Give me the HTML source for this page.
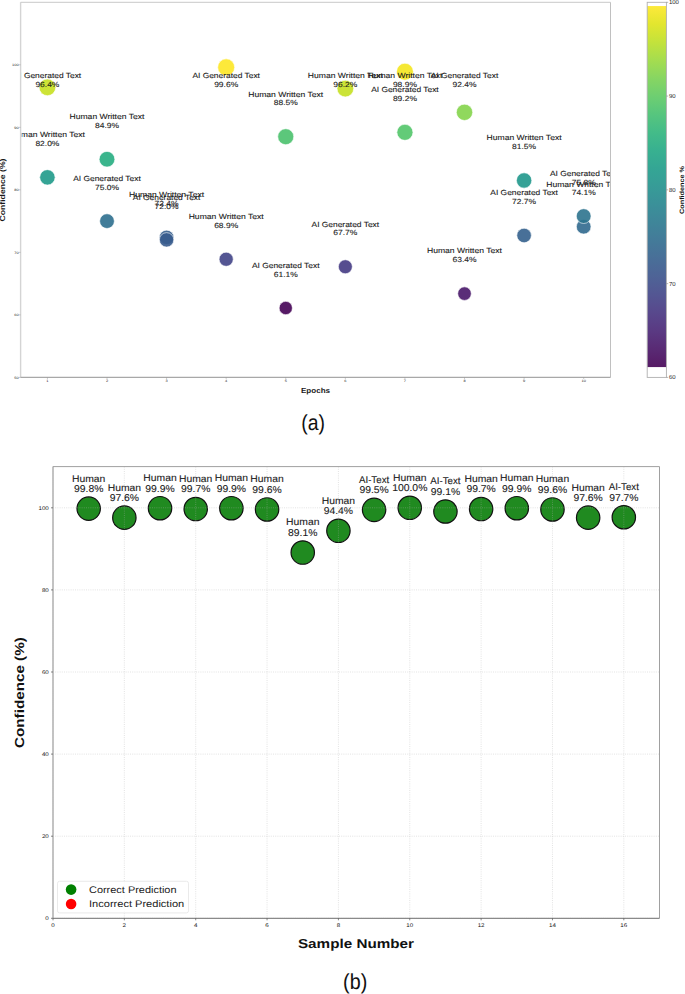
<!DOCTYPE html>
<html><head><meta charset="utf-8"><style>
html,body{margin:0;padding:0;background:#fff;}
body{width:685px;height:994px;overflow:hidden;}
svg{display:block;font-family:"Liberation Sans", sans-serif;text-rendering:geometricPrecision;}
</style></head><body>
<svg width="685" height="994" viewBox="0 0 685 994">
<rect width="685" height="994" fill="#fff"/>
<clipPath id="tclip"><rect x="21.6" y="2.3" width="588.9" height="375.09999999999997"/></clipPath>
<rect x="20.6" y="2.3" width="589.9" height="375.09999999999997" fill="#fff" stroke="none"/>
<g clip-path="url(#tclip)">
<circle cx="47.41" cy="177.35" r="7.70" fill="#1f9a8a" fill-opacity="0.9" stroke="#fff" stroke-width="0.6"/>
<circle cx="107.00" cy="159.22" r="7.83" fill="#26ad81" fill-opacity="0.9" stroke="#fff" stroke-width="0.6"/>
<circle cx="166.59" cy="237.36" r="7.23" fill="#355e8d" fill-opacity="0.9" stroke="#fff" stroke-width="0.6"/>
<circle cx="226.17" cy="259.24" r="7.06" fill="#414487" fill-opacity="0.9" stroke="#fff" stroke-width="0.6"/>
<circle cx="285.76" cy="136.71" r="8.00" fill="#4ac16d" fill-opacity="0.9" stroke="#fff" stroke-width="0.6"/>
<circle cx="345.34" cy="88.57" r="8.34" fill="#c5e021" fill-opacity="0.9" stroke="#fff" stroke-width="0.6"/>
<circle cx="404.93" cy="71.69" r="8.45" fill="#f4e61e" fill-opacity="0.9" stroke="#fff" stroke-width="0.6"/>
<circle cx="464.51" cy="293.63" r="6.77" fill="#481769" fill-opacity="0.9" stroke="#fff" stroke-width="0.6"/>
<circle cx="524.10" cy="180.47" r="7.67" fill="#1f978b" fill-opacity="0.9" stroke="#fff" stroke-width="0.6"/>
<circle cx="583.69" cy="226.73" r="7.32" fill="#30698e" fill-opacity="0.9" stroke="#fff" stroke-width="0.6"/>
<circle cx="47.41" cy="87.32" r="8.35" fill="#c8e020" fill-opacity="0.9" stroke="#fff" stroke-width="0.6"/>
<circle cx="107.00" cy="221.11" r="7.36" fill="#2e6f8e" fill-opacity="0.9" stroke="#fff" stroke-width="0.6"/>
<circle cx="166.59" cy="239.86" r="7.21" fill="#375b8d" fill-opacity="0.9" stroke="#fff" stroke-width="0.6"/>
<circle cx="226.17" cy="67.32" r="8.48" fill="#fde725" fill-opacity="0.9" stroke="#fff" stroke-width="0.6"/>
<circle cx="285.76" cy="308.01" r="6.64" fill="#440154" fill-opacity="0.9" stroke="#fff" stroke-width="0.6"/>
<circle cx="345.34" cy="266.75" r="6.99" fill="#443a83" fill-opacity="0.9" stroke="#fff" stroke-width="0.6"/>
<circle cx="404.93" cy="132.33" r="8.03" fill="#52c569" fill-opacity="0.9" stroke="#fff" stroke-width="0.6"/>
<circle cx="464.51" cy="112.33" r="8.17" fill="#84d44b" fill-opacity="0.9" stroke="#fff" stroke-width="0.6"/>
<circle cx="524.10" cy="235.49" r="7.25" fill="#34608d" fill-opacity="0.9" stroke="#fff" stroke-width="0.6"/>
<circle cx="583.69" cy="216.11" r="7.40" fill="#2c738e" fill-opacity="0.9" stroke="#fff" stroke-width="0.6"/>
<text x="47.41" y="78.05" font-size="7.40" text-anchor="middle" fill="#1a1a1a" stroke="#1a1a1a" stroke-width="0.1" textLength="67.53" lengthAdjust="spacingAndGlyphs">AI Generated Text</text>
<text x="47.41" y="86.85" font-size="7.40" text-anchor="middle" fill="#1a1a1a" stroke="#1a1a1a" stroke-width="0.1" textLength="23.99" lengthAdjust="spacingAndGlyphs">96.4%</text>
<text x="47.41" y="137.20" font-size="7.40" text-anchor="middle" fill="#1a1a1a" stroke="#1a1a1a" stroke-width="0.1" textLength="74.99" lengthAdjust="spacingAndGlyphs">Human Written Text</text>
<text x="47.41" y="146.00" font-size="7.40" text-anchor="middle" fill="#1a1a1a" stroke="#1a1a1a" stroke-width="0.1" textLength="23.99" lengthAdjust="spacingAndGlyphs">82.0%</text>
<text x="107.00" y="119.07" font-size="7.40" text-anchor="middle" fill="#1a1a1a" stroke="#1a1a1a" stroke-width="0.1" textLength="74.99" lengthAdjust="spacingAndGlyphs">Human Written Text</text>
<text x="107.00" y="127.87" font-size="7.40" text-anchor="middle" fill="#1a1a1a" stroke="#1a1a1a" stroke-width="0.1" textLength="23.99" lengthAdjust="spacingAndGlyphs">84.9%</text>
<text x="107.00" y="180.96" font-size="7.40" text-anchor="middle" fill="#1a1a1a" stroke="#1a1a1a" stroke-width="0.1" textLength="67.53" lengthAdjust="spacingAndGlyphs">AI Generated Text</text>
<text x="107.00" y="189.76" font-size="7.40" text-anchor="middle" fill="#1a1a1a" stroke="#1a1a1a" stroke-width="0.1" textLength="23.99" lengthAdjust="spacingAndGlyphs">75.0%</text>
<text x="166.59" y="197.21" font-size="7.40" text-anchor="middle" fill="#1a1a1a" stroke="#1a1a1a" stroke-width="0.1" textLength="74.99" lengthAdjust="spacingAndGlyphs">Human Written Text</text>
<text x="166.59" y="206.01" font-size="7.40" text-anchor="middle" fill="#1a1a1a" stroke="#1a1a1a" stroke-width="0.1" textLength="23.99" lengthAdjust="spacingAndGlyphs">72.4%</text>
<text x="166.59" y="199.71" font-size="7.40" text-anchor="middle" fill="#1a1a1a" stroke="#1a1a1a" stroke-width="0.1" textLength="67.53" lengthAdjust="spacingAndGlyphs">AI Generated Text</text>
<text x="166.59" y="208.51" font-size="7.40" text-anchor="middle" fill="#1a1a1a" stroke="#1a1a1a" stroke-width="0.1" textLength="23.99" lengthAdjust="spacingAndGlyphs">72.0%</text>
<text x="226.17" y="78.05" font-size="7.40" text-anchor="middle" fill="#1a1a1a" stroke="#1a1a1a" stroke-width="0.1" textLength="67.53" lengthAdjust="spacingAndGlyphs">AI Generated Text</text>
<text x="226.17" y="86.85" font-size="7.40" text-anchor="middle" fill="#1a1a1a" stroke="#1a1a1a" stroke-width="0.1" textLength="23.99" lengthAdjust="spacingAndGlyphs">99.6%</text>
<text x="226.17" y="219.09" font-size="7.40" text-anchor="middle" fill="#1a1a1a" stroke="#1a1a1a" stroke-width="0.1" textLength="74.99" lengthAdjust="spacingAndGlyphs">Human Written Text</text>
<text x="226.17" y="227.89" font-size="7.40" text-anchor="middle" fill="#1a1a1a" stroke="#1a1a1a" stroke-width="0.1" textLength="23.99" lengthAdjust="spacingAndGlyphs">68.9%</text>
<text x="285.76" y="96.56" font-size="7.40" text-anchor="middle" fill="#1a1a1a" stroke="#1a1a1a" stroke-width="0.1" textLength="74.99" lengthAdjust="spacingAndGlyphs">Human Written Text</text>
<text x="285.76" y="105.36" font-size="7.40" text-anchor="middle" fill="#1a1a1a" stroke="#1a1a1a" stroke-width="0.1" textLength="23.99" lengthAdjust="spacingAndGlyphs">88.5%</text>
<text x="285.76" y="267.86" font-size="7.40" text-anchor="middle" fill="#1a1a1a" stroke="#1a1a1a" stroke-width="0.1" textLength="67.53" lengthAdjust="spacingAndGlyphs">AI Generated Text</text>
<text x="285.76" y="276.66" font-size="7.40" text-anchor="middle" fill="#1a1a1a" stroke="#1a1a1a" stroke-width="0.1" textLength="23.99" lengthAdjust="spacingAndGlyphs">61.1%</text>
<text x="345.34" y="78.05" font-size="7.40" text-anchor="middle" fill="#1a1a1a" stroke="#1a1a1a" stroke-width="0.1" textLength="74.99" lengthAdjust="spacingAndGlyphs">Human Written Text</text>
<text x="345.34" y="86.85" font-size="7.40" text-anchor="middle" fill="#1a1a1a" stroke="#1a1a1a" stroke-width="0.1" textLength="23.99" lengthAdjust="spacingAndGlyphs">96.2%</text>
<text x="345.34" y="226.59" font-size="7.40" text-anchor="middle" fill="#1a1a1a" stroke="#1a1a1a" stroke-width="0.1" textLength="67.53" lengthAdjust="spacingAndGlyphs">AI Generated Text</text>
<text x="345.34" y="235.39" font-size="7.40" text-anchor="middle" fill="#1a1a1a" stroke="#1a1a1a" stroke-width="0.1" textLength="23.99" lengthAdjust="spacingAndGlyphs">67.7%</text>
<text x="404.93" y="78.05" font-size="7.40" text-anchor="middle" fill="#1a1a1a" stroke="#1a1a1a" stroke-width="0.1" textLength="74.99" lengthAdjust="spacingAndGlyphs">Human Written Text</text>
<text x="404.93" y="86.85" font-size="7.40" text-anchor="middle" fill="#1a1a1a" stroke="#1a1a1a" stroke-width="0.1" textLength="23.99" lengthAdjust="spacingAndGlyphs">98.9%</text>
<text x="404.93" y="92.18" font-size="7.40" text-anchor="middle" fill="#1a1a1a" stroke="#1a1a1a" stroke-width="0.1" textLength="67.53" lengthAdjust="spacingAndGlyphs">AI Generated Text</text>
<text x="404.93" y="100.98" font-size="7.40" text-anchor="middle" fill="#1a1a1a" stroke="#1a1a1a" stroke-width="0.1" textLength="23.99" lengthAdjust="spacingAndGlyphs">89.2%</text>
<text x="464.51" y="78.05" font-size="7.40" text-anchor="middle" fill="#1a1a1a" stroke="#1a1a1a" stroke-width="0.1" textLength="67.53" lengthAdjust="spacingAndGlyphs">AI Generated Text</text>
<text x="464.51" y="86.85" font-size="7.40" text-anchor="middle" fill="#1a1a1a" stroke="#1a1a1a" stroke-width="0.1" textLength="23.99" lengthAdjust="spacingAndGlyphs">92.4%</text>
<text x="464.51" y="253.48" font-size="7.40" text-anchor="middle" fill="#1a1a1a" stroke="#1a1a1a" stroke-width="0.1" textLength="74.99" lengthAdjust="spacingAndGlyphs">Human Written Text</text>
<text x="464.51" y="262.28" font-size="7.40" text-anchor="middle" fill="#1a1a1a" stroke="#1a1a1a" stroke-width="0.1" textLength="23.99" lengthAdjust="spacingAndGlyphs">63.4%</text>
<text x="524.10" y="140.32" font-size="7.40" text-anchor="middle" fill="#1a1a1a" stroke="#1a1a1a" stroke-width="0.1" textLength="74.99" lengthAdjust="spacingAndGlyphs">Human Written Text</text>
<text x="524.10" y="149.12" font-size="7.40" text-anchor="middle" fill="#1a1a1a" stroke="#1a1a1a" stroke-width="0.1" textLength="23.99" lengthAdjust="spacingAndGlyphs">81.5%</text>
<text x="524.10" y="195.34" font-size="7.40" text-anchor="middle" fill="#1a1a1a" stroke="#1a1a1a" stroke-width="0.1" textLength="67.53" lengthAdjust="spacingAndGlyphs">AI Generated Text</text>
<text x="524.10" y="204.14" font-size="7.40" text-anchor="middle" fill="#1a1a1a" stroke="#1a1a1a" stroke-width="0.1" textLength="23.99" lengthAdjust="spacingAndGlyphs">72.7%</text>
<text x="583.69" y="175.96" font-size="7.40" text-anchor="middle" fill="#1a1a1a" stroke="#1a1a1a" stroke-width="0.1" textLength="67.53" lengthAdjust="spacingAndGlyphs">AI Generated Text</text>
<text x="583.69" y="184.76" font-size="7.40" text-anchor="middle" fill="#1a1a1a" stroke="#1a1a1a" stroke-width="0.1" textLength="23.99" lengthAdjust="spacingAndGlyphs">75.8%</text>
<text x="583.69" y="186.58" font-size="7.40" text-anchor="middle" fill="#1a1a1a" stroke="#1a1a1a" stroke-width="0.1" textLength="74.99" lengthAdjust="spacingAndGlyphs">Human Written Text</text>
<text x="583.69" y="195.38" font-size="7.40" text-anchor="middle" fill="#1a1a1a" stroke="#1a1a1a" stroke-width="0.1" textLength="23.99" lengthAdjust="spacingAndGlyphs">74.1%</text>
</g>
<line x1="20.6" y1="2.3" x2="20.6" y2="377.4" stroke="#d4d4d4" stroke-width="1.4"/>
<line x1="20.6" y1="2.3" x2="610.5" y2="2.3" stroke="#c8c8c8" stroke-width="1"/>
<line x1="610.5" y1="2.3" x2="610.5" y2="377.4" stroke="#c0c0c0" stroke-width="1"/>
<line x1="20.6" y1="377.4" x2="610.5" y2="377.4" stroke="#a8a8a8" stroke-width="1.1"/>
<line x1="18.8" y1="377.40" x2="20.6" y2="377.40" stroke="#999" stroke-width="0.5"/>
<text x="18.70" y="378.62" font-size="3.40" text-anchor="end" fill="#222" textLength="4.41" lengthAdjust="spacingAndGlyphs">50</text>
<line x1="18.8" y1="314.88" x2="20.6" y2="314.88" stroke="#999" stroke-width="0.5"/>
<text x="18.70" y="316.10" font-size="3.40" text-anchor="end" fill="#222" textLength="4.41" lengthAdjust="spacingAndGlyphs">60</text>
<line x1="18.8" y1="252.37" x2="20.6" y2="252.37" stroke="#999" stroke-width="0.5"/>
<text x="18.70" y="253.58" font-size="3.40" text-anchor="end" fill="#222" textLength="4.41" lengthAdjust="spacingAndGlyphs">70</text>
<line x1="18.8" y1="189.85" x2="20.6" y2="189.85" stroke="#999" stroke-width="0.5"/>
<text x="18.70" y="191.07" font-size="3.40" text-anchor="end" fill="#222" textLength="4.41" lengthAdjust="spacingAndGlyphs">80</text>
<line x1="18.8" y1="127.33" x2="20.6" y2="127.33" stroke="#999" stroke-width="0.5"/>
<text x="18.70" y="128.55" font-size="3.40" text-anchor="end" fill="#222" textLength="4.41" lengthAdjust="spacingAndGlyphs">90</text>
<line x1="18.8" y1="64.82" x2="20.6" y2="64.82" stroke="#999" stroke-width="0.5"/>
<text x="18.70" y="66.03" font-size="3.40" text-anchor="end" fill="#222" textLength="6.62" lengthAdjust="spacingAndGlyphs">100</text>
<line x1="47.41" y1="377.4" x2="47.41" y2="379.2" stroke="#999" stroke-width="0.5"/>
<text x="47.41" y="382.22" font-size="3.40" text-anchor="middle" fill="#222" textLength="2.21" lengthAdjust="spacingAndGlyphs">1</text>
<line x1="107.00" y1="377.4" x2="107.00" y2="379.2" stroke="#999" stroke-width="0.5"/>
<text x="107.00" y="382.22" font-size="3.40" text-anchor="middle" fill="#222" textLength="2.21" lengthAdjust="spacingAndGlyphs">2</text>
<line x1="166.59" y1="377.4" x2="166.59" y2="379.2" stroke="#999" stroke-width="0.5"/>
<text x="166.59" y="382.22" font-size="3.40" text-anchor="middle" fill="#222" textLength="2.21" lengthAdjust="spacingAndGlyphs">3</text>
<line x1="226.17" y1="377.4" x2="226.17" y2="379.2" stroke="#999" stroke-width="0.5"/>
<text x="226.17" y="382.22" font-size="3.40" text-anchor="middle" fill="#222" textLength="2.21" lengthAdjust="spacingAndGlyphs">4</text>
<line x1="285.76" y1="377.4" x2="285.76" y2="379.2" stroke="#999" stroke-width="0.5"/>
<text x="285.76" y="382.22" font-size="3.40" text-anchor="middle" fill="#222" textLength="2.21" lengthAdjust="spacingAndGlyphs">5</text>
<line x1="345.34" y1="377.4" x2="345.34" y2="379.2" stroke="#999" stroke-width="0.5"/>
<text x="345.34" y="382.22" font-size="3.40" text-anchor="middle" fill="#222" textLength="2.21" lengthAdjust="spacingAndGlyphs">6</text>
<line x1="404.93" y1="377.4" x2="404.93" y2="379.2" stroke="#999" stroke-width="0.5"/>
<text x="404.93" y="382.22" font-size="3.40" text-anchor="middle" fill="#222" textLength="2.21" lengthAdjust="spacingAndGlyphs">7</text>
<line x1="464.51" y1="377.4" x2="464.51" y2="379.2" stroke="#999" stroke-width="0.5"/>
<text x="464.51" y="382.22" font-size="3.40" text-anchor="middle" fill="#222" textLength="2.21" lengthAdjust="spacingAndGlyphs">8</text>
<line x1="524.10" y1="377.4" x2="524.10" y2="379.2" stroke="#999" stroke-width="0.5"/>
<text x="524.10" y="382.22" font-size="3.40" text-anchor="middle" fill="#222" textLength="2.21" lengthAdjust="spacingAndGlyphs">9</text>
<line x1="583.69" y1="377.4" x2="583.69" y2="379.2" stroke="#999" stroke-width="0.5"/>
<text x="583.69" y="382.22" font-size="3.40" text-anchor="middle" fill="#222" textLength="4.41" lengthAdjust="spacingAndGlyphs">10</text>
<text x="315.50" y="393.21" font-size="7.30" text-anchor="middle" fill="#1a1a1a" font-weight="bold" textLength="29.10" lengthAdjust="spacingAndGlyphs">Epochs</text>
<text x="2.70" y="192.65" font-size="7.40" text-anchor="middle" fill="#1a1a1a" font-weight="bold" textLength="63.01" lengthAdjust="spacingAndGlyphs" transform="rotate(-90 2.70 190.00)">Confidence (%)</text>
<linearGradient id="vir" x1="0" y1="0" x2="0" y2="1"><stop offset="0.000" stop-color="#fde725"/><stop offset="0.050" stop-color="#dfe318"/><stop offset="0.100" stop-color="#bddf26"/><stop offset="0.150" stop-color="#9bd93c"/><stop offset="0.200" stop-color="#7ad151"/><stop offset="0.250" stop-color="#5ec962"/><stop offset="0.300" stop-color="#44bf70"/><stop offset="0.350" stop-color="#2fb47c"/><stop offset="0.400" stop-color="#22a884"/><stop offset="0.450" stop-color="#1e9c89"/><stop offset="0.500" stop-color="#21918c"/><stop offset="0.550" stop-color="#25848e"/><stop offset="0.600" stop-color="#2a788e"/><stop offset="0.650" stop-color="#2f6c8e"/><stop offset="0.700" stop-color="#355f8d"/><stop offset="0.750" stop-color="#3b528b"/><stop offset="0.800" stop-color="#414487"/><stop offset="0.850" stop-color="#463480"/><stop offset="0.900" stop-color="#482475"/><stop offset="0.950" stop-color="#471365"/><stop offset="1.000" stop-color="#440154"/></linearGradient>
<rect x="647.2" y="6.05" width="19.199999999999932" height="361.03" fill="url(#vir)" fill-opacity="0.9"/>
<rect x="647.2" y="2.3" width="19.199999999999932" height="375.09999999999997" fill="none" stroke="#b0b0b0" stroke-width="0.9"/>
<line x1="666.4" y1="377.40" x2="668.1999999999999" y2="377.40" stroke="#888" stroke-width="0.6"/>
<text x="668.90" y="379.48" font-size="5.80" text-anchor="start" fill="#222" textLength="6.68" lengthAdjust="spacingAndGlyphs">60</text>
<line x1="666.4" y1="283.62" x2="668.1999999999999" y2="283.62" stroke="#888" stroke-width="0.6"/>
<text x="668.90" y="285.70" font-size="5.80" text-anchor="start" fill="#222" textLength="6.68" lengthAdjust="spacingAndGlyphs">70</text>
<line x1="666.4" y1="189.85" x2="668.1999999999999" y2="189.85" stroke="#888" stroke-width="0.6"/>
<text x="668.90" y="191.93" font-size="5.80" text-anchor="start" fill="#222" textLength="6.68" lengthAdjust="spacingAndGlyphs">80</text>
<line x1="666.4" y1="96.08" x2="668.1999999999999" y2="96.08" stroke="#888" stroke-width="0.6"/>
<text x="668.90" y="98.15" font-size="5.80" text-anchor="start" fill="#222" textLength="6.68" lengthAdjust="spacingAndGlyphs">90</text>
<line x1="666.4" y1="2.30" x2="668.1999999999999" y2="2.30" stroke="#888" stroke-width="0.6"/>
<text x="668.90" y="4.38" font-size="5.80" text-anchor="start" fill="#222" textLength="10.02" lengthAdjust="spacingAndGlyphs">100</text>
<text x="682.20" y="192.26" font-size="6.30" text-anchor="middle" fill="#111" font-weight="bold" textLength="47.89" lengthAdjust="spacingAndGlyphs" transform="rotate(-90 682.20 190.00)">Confidence %</text>
<text x="313.15" y="430.0" font-size="21.8" text-anchor="middle" fill="#111" textLength="23.7" lengthAdjust="spacingAndGlyphs">(a)</text>
<rect x="53.0" y="466.6" width="606.5" height="451.69999999999993" fill="#fff"/>
<circle cx="88.68" cy="508.62" r="11.7" fill="#208a20" stroke="#111" stroke-width="1.2"/>
<circle cx="124.35" cy="517.65" r="11.7" fill="#208a20" stroke="#111" stroke-width="1.2"/>
<circle cx="160.03" cy="508.21" r="11.7" fill="#208a20" stroke="#111" stroke-width="1.2"/>
<circle cx="195.71" cy="509.03" r="11.7" fill="#208a20" stroke="#111" stroke-width="1.2"/>
<circle cx="231.38" cy="508.21" r="11.7" fill="#208a20" stroke="#111" stroke-width="1.2"/>
<circle cx="267.06" cy="509.44" r="11.7" fill="#208a20" stroke="#111" stroke-width="1.2"/>
<circle cx="302.74" cy="552.54" r="11.7" fill="#208a20" stroke="#111" stroke-width="1.2"/>
<circle cx="338.41" cy="530.79" r="11.7" fill="#208a20" stroke="#111" stroke-width="1.2"/>
<circle cx="374.09" cy="509.85" r="11.7" fill="#208a20" stroke="#111" stroke-width="1.2"/>
<circle cx="409.76" cy="507.80" r="11.7" fill="#208a20" stroke="#111" stroke-width="1.2"/>
<circle cx="445.44" cy="511.49" r="11.7" fill="#208a20" stroke="#111" stroke-width="1.2"/>
<circle cx="481.12" cy="509.03" r="11.7" fill="#208a20" stroke="#111" stroke-width="1.2"/>
<circle cx="516.79" cy="508.21" r="11.7" fill="#208a20" stroke="#111" stroke-width="1.2"/>
<circle cx="552.47" cy="509.44" r="11.7" fill="#208a20" stroke="#111" stroke-width="1.2"/>
<circle cx="588.15" cy="517.65" r="11.7" fill="#208a20" stroke="#111" stroke-width="1.2"/>
<circle cx="623.82" cy="517.24" r="11.7" fill="#208a20" stroke="#111" stroke-width="1.2"/>
<text x="88.68" y="481.52" font-size="9.90" text-anchor="middle" fill="#1a1a1a" stroke="#1a1a1a" stroke-width="0.1" textLength="33.36" lengthAdjust="spacingAndGlyphs">Human</text>
<text x="88.68" y="491.92" font-size="9.90" text-anchor="middle" fill="#1a1a1a" stroke="#1a1a1a" stroke-width="0.1" textLength="29.39" lengthAdjust="spacingAndGlyphs">99.8%</text>
<text x="124.35" y="490.55" font-size="9.90" text-anchor="middle" fill="#1a1a1a" stroke="#1a1a1a" stroke-width="0.1" textLength="33.36" lengthAdjust="spacingAndGlyphs">Human</text>
<text x="124.35" y="500.95" font-size="9.90" text-anchor="middle" fill="#1a1a1a" stroke="#1a1a1a" stroke-width="0.1" textLength="29.39" lengthAdjust="spacingAndGlyphs">97.6%</text>
<text x="160.03" y="481.11" font-size="9.90" text-anchor="middle" fill="#1a1a1a" stroke="#1a1a1a" stroke-width="0.1" textLength="33.36" lengthAdjust="spacingAndGlyphs">Human</text>
<text x="160.03" y="491.51" font-size="9.90" text-anchor="middle" fill="#1a1a1a" stroke="#1a1a1a" stroke-width="0.1" textLength="29.39" lengthAdjust="spacingAndGlyphs">99.9%</text>
<text x="195.71" y="481.93" font-size="9.90" text-anchor="middle" fill="#1a1a1a" stroke="#1a1a1a" stroke-width="0.1" textLength="33.36" lengthAdjust="spacingAndGlyphs">Human</text>
<text x="195.71" y="492.33" font-size="9.90" text-anchor="middle" fill="#1a1a1a" stroke="#1a1a1a" stroke-width="0.1" textLength="29.39" lengthAdjust="spacingAndGlyphs">99.7%</text>
<text x="231.38" y="481.11" font-size="9.90" text-anchor="middle" fill="#1a1a1a" stroke="#1a1a1a" stroke-width="0.1" textLength="33.36" lengthAdjust="spacingAndGlyphs">Human</text>
<text x="231.38" y="491.51" font-size="9.90" text-anchor="middle" fill="#1a1a1a" stroke="#1a1a1a" stroke-width="0.1" textLength="29.39" lengthAdjust="spacingAndGlyphs">99.9%</text>
<text x="267.06" y="482.34" font-size="9.90" text-anchor="middle" fill="#1a1a1a" stroke="#1a1a1a" stroke-width="0.1" textLength="33.36" lengthAdjust="spacingAndGlyphs">Human</text>
<text x="267.06" y="492.74" font-size="9.90" text-anchor="middle" fill="#1a1a1a" stroke="#1a1a1a" stroke-width="0.1" textLength="29.39" lengthAdjust="spacingAndGlyphs">99.6%</text>
<text x="302.74" y="525.44" font-size="9.90" text-anchor="middle" fill="#1a1a1a" stroke="#1a1a1a" stroke-width="0.1" textLength="33.36" lengthAdjust="spacingAndGlyphs">Human</text>
<text x="302.74" y="535.84" font-size="9.90" text-anchor="middle" fill="#1a1a1a" stroke="#1a1a1a" stroke-width="0.1" textLength="29.39" lengthAdjust="spacingAndGlyphs">89.1%</text>
<text x="338.41" y="503.69" font-size="9.90" text-anchor="middle" fill="#1a1a1a" stroke="#1a1a1a" stroke-width="0.1" textLength="33.36" lengthAdjust="spacingAndGlyphs">Human</text>
<text x="338.41" y="514.09" font-size="9.90" text-anchor="middle" fill="#1a1a1a" stroke="#1a1a1a" stroke-width="0.1" textLength="29.39" lengthAdjust="spacingAndGlyphs">94.4%</text>
<text x="374.09" y="482.75" font-size="9.90" text-anchor="middle" fill="#1a1a1a" stroke="#1a1a1a" stroke-width="0.1" textLength="30.25" lengthAdjust="spacingAndGlyphs">AI-Text</text>
<text x="374.09" y="493.15" font-size="9.90" text-anchor="middle" fill="#1a1a1a" stroke="#1a1a1a" stroke-width="0.1" textLength="29.39" lengthAdjust="spacingAndGlyphs">99.5%</text>
<text x="409.76" y="480.70" font-size="9.90" text-anchor="middle" fill="#1a1a1a" stroke="#1a1a1a" stroke-width="0.1" textLength="33.36" lengthAdjust="spacingAndGlyphs">Human</text>
<text x="409.76" y="491.10" font-size="9.90" text-anchor="middle" fill="#1a1a1a" stroke="#1a1a1a" stroke-width="0.1" textLength="35.27" lengthAdjust="spacingAndGlyphs">100.0%</text>
<text x="445.44" y="484.39" font-size="9.90" text-anchor="middle" fill="#1a1a1a" stroke="#1a1a1a" stroke-width="0.1" textLength="30.25" lengthAdjust="spacingAndGlyphs">AI-Text</text>
<text x="445.44" y="494.79" font-size="9.90" text-anchor="middle" fill="#1a1a1a" stroke="#1a1a1a" stroke-width="0.1" textLength="29.39" lengthAdjust="spacingAndGlyphs">99.1%</text>
<text x="481.12" y="481.93" font-size="9.90" text-anchor="middle" fill="#1a1a1a" stroke="#1a1a1a" stroke-width="0.1" textLength="33.36" lengthAdjust="spacingAndGlyphs">Human</text>
<text x="481.12" y="492.33" font-size="9.90" text-anchor="middle" fill="#1a1a1a" stroke="#1a1a1a" stroke-width="0.1" textLength="29.39" lengthAdjust="spacingAndGlyphs">99.7%</text>
<text x="516.79" y="481.11" font-size="9.90" text-anchor="middle" fill="#1a1a1a" stroke="#1a1a1a" stroke-width="0.1" textLength="33.36" lengthAdjust="spacingAndGlyphs">Human</text>
<text x="516.79" y="491.51" font-size="9.90" text-anchor="middle" fill="#1a1a1a" stroke="#1a1a1a" stroke-width="0.1" textLength="29.39" lengthAdjust="spacingAndGlyphs">99.9%</text>
<text x="552.47" y="482.34" font-size="9.90" text-anchor="middle" fill="#1a1a1a" stroke="#1a1a1a" stroke-width="0.1" textLength="33.36" lengthAdjust="spacingAndGlyphs">Human</text>
<text x="552.47" y="492.74" font-size="9.90" text-anchor="middle" fill="#1a1a1a" stroke="#1a1a1a" stroke-width="0.1" textLength="29.39" lengthAdjust="spacingAndGlyphs">99.6%</text>
<text x="588.15" y="490.55" font-size="9.90" text-anchor="middle" fill="#1a1a1a" stroke="#1a1a1a" stroke-width="0.1" textLength="33.36" lengthAdjust="spacingAndGlyphs">Human</text>
<text x="588.15" y="500.95" font-size="9.90" text-anchor="middle" fill="#1a1a1a" stroke="#1a1a1a" stroke-width="0.1" textLength="29.39" lengthAdjust="spacingAndGlyphs">97.6%</text>
<text x="623.82" y="490.14" font-size="9.90" text-anchor="middle" fill="#1a1a1a" stroke="#1a1a1a" stroke-width="0.1" textLength="30.25" lengthAdjust="spacingAndGlyphs">AI-Text</text>
<text x="623.82" y="500.54" font-size="9.90" text-anchor="middle" fill="#1a1a1a" stroke="#1a1a1a" stroke-width="0.1" textLength="29.39" lengthAdjust="spacingAndGlyphs">97.7%</text>
<line x1="53.00" y1="466.6" x2="53.00" y2="918.3" stroke="#b0b0b0" stroke-opacity="0.45" stroke-width="0.8" stroke-dasharray="1 1.2"/>
<line x1="124.35" y1="466.6" x2="124.35" y2="918.3" stroke="#b0b0b0" stroke-opacity="0.45" stroke-width="0.8" stroke-dasharray="1 1.2"/>
<line x1="195.71" y1="466.6" x2="195.71" y2="918.3" stroke="#b0b0b0" stroke-opacity="0.45" stroke-width="0.8" stroke-dasharray="1 1.2"/>
<line x1="267.06" y1="466.6" x2="267.06" y2="918.3" stroke="#b0b0b0" stroke-opacity="0.45" stroke-width="0.8" stroke-dasharray="1 1.2"/>
<line x1="338.41" y1="466.6" x2="338.41" y2="918.3" stroke="#b0b0b0" stroke-opacity="0.45" stroke-width="0.8" stroke-dasharray="1 1.2"/>
<line x1="409.76" y1="466.6" x2="409.76" y2="918.3" stroke="#b0b0b0" stroke-opacity="0.45" stroke-width="0.8" stroke-dasharray="1 1.2"/>
<line x1="481.12" y1="466.6" x2="481.12" y2="918.3" stroke="#b0b0b0" stroke-opacity="0.45" stroke-width="0.8" stroke-dasharray="1 1.2"/>
<line x1="552.47" y1="466.6" x2="552.47" y2="918.3" stroke="#b0b0b0" stroke-opacity="0.45" stroke-width="0.8" stroke-dasharray="1 1.2"/>
<line x1="623.82" y1="466.6" x2="623.82" y2="918.3" stroke="#b0b0b0" stroke-opacity="0.45" stroke-width="0.8" stroke-dasharray="1 1.2"/>
<line x1="53.0" y1="918.30" x2="659.5" y2="918.30" stroke="#b0b0b0" stroke-opacity="0.45" stroke-width="0.8" stroke-dasharray="1 1.2"/>
<line x1="53.0" y1="836.20" x2="659.5" y2="836.20" stroke="#b0b0b0" stroke-opacity="0.45" stroke-width="0.8" stroke-dasharray="1 1.2"/>
<line x1="53.0" y1="754.10" x2="659.5" y2="754.10" stroke="#b0b0b0" stroke-opacity="0.45" stroke-width="0.8" stroke-dasharray="1 1.2"/>
<line x1="53.0" y1="672.00" x2="659.5" y2="672.00" stroke="#b0b0b0" stroke-opacity="0.45" stroke-width="0.8" stroke-dasharray="1 1.2"/>
<line x1="53.0" y1="589.90" x2="659.5" y2="589.90" stroke="#b0b0b0" stroke-opacity="0.45" stroke-width="0.8" stroke-dasharray="1 1.2"/>
<line x1="53.0" y1="507.80" x2="659.5" y2="507.80" stroke="#b0b0b0" stroke-opacity="0.45" stroke-width="0.8" stroke-dasharray="1 1.2"/>
<line x1="53.0" y1="466.6" x2="53.0" y2="918.3" stroke="#bdbdbd" stroke-width="1.8"/>
<line x1="53.0" y1="466.6" x2="659.5" y2="466.6" stroke="#a0a0a0" stroke-width="1"/>
<line x1="659.5" y1="466.6" x2="659.5" y2="918.3" stroke="#a0a0a0" stroke-width="1"/>
<line x1="53.0" y1="918.3" x2="659.5" y2="918.3" stroke="#8a8a8a" stroke-width="1.3"/>
<line x1="51.0" y1="918.30" x2="53.0" y2="918.30" stroke="#555" stroke-width="0.7"/>
<text x="48.80" y="920.20" font-size="5.30" text-anchor="end" fill="#151515" textLength="3.44" lengthAdjust="spacingAndGlyphs">0</text>
<line x1="51.0" y1="836.20" x2="53.0" y2="836.20" stroke="#555" stroke-width="0.7"/>
<text x="48.80" y="838.10" font-size="5.30" text-anchor="end" fill="#151515" textLength="6.88" lengthAdjust="spacingAndGlyphs">20</text>
<line x1="51.0" y1="754.10" x2="53.0" y2="754.10" stroke="#555" stroke-width="0.7"/>
<text x="48.80" y="756.00" font-size="5.30" text-anchor="end" fill="#151515" textLength="6.88" lengthAdjust="spacingAndGlyphs">40</text>
<line x1="51.0" y1="672.00" x2="53.0" y2="672.00" stroke="#555" stroke-width="0.7"/>
<text x="48.80" y="673.90" font-size="5.30" text-anchor="end" fill="#151515" textLength="6.88" lengthAdjust="spacingAndGlyphs">60</text>
<line x1="51.0" y1="589.90" x2="53.0" y2="589.90" stroke="#555" stroke-width="0.7"/>
<text x="48.80" y="591.80" font-size="5.30" text-anchor="end" fill="#151515" textLength="6.88" lengthAdjust="spacingAndGlyphs">80</text>
<line x1="51.0" y1="507.80" x2="53.0" y2="507.80" stroke="#555" stroke-width="0.7"/>
<text x="48.80" y="509.70" font-size="5.30" text-anchor="end" fill="#151515" textLength="10.32" lengthAdjust="spacingAndGlyphs">100</text>
<line x1="53.00" y1="918.3" x2="53.00" y2="920.3" stroke="#555" stroke-width="0.7"/>
<text x="53.00" y="926.60" font-size="5.30" text-anchor="middle" fill="#151515" textLength="3.44" lengthAdjust="spacingAndGlyphs">0</text>
<line x1="124.35" y1="918.3" x2="124.35" y2="920.3" stroke="#555" stroke-width="0.7"/>
<text x="124.35" y="926.60" font-size="5.30" text-anchor="middle" fill="#151515" textLength="3.44" lengthAdjust="spacingAndGlyphs">2</text>
<line x1="195.71" y1="918.3" x2="195.71" y2="920.3" stroke="#555" stroke-width="0.7"/>
<text x="195.71" y="926.60" font-size="5.30" text-anchor="middle" fill="#151515" textLength="3.44" lengthAdjust="spacingAndGlyphs">4</text>
<line x1="267.06" y1="918.3" x2="267.06" y2="920.3" stroke="#555" stroke-width="0.7"/>
<text x="267.06" y="926.60" font-size="5.30" text-anchor="middle" fill="#151515" textLength="3.44" lengthAdjust="spacingAndGlyphs">6</text>
<line x1="338.41" y1="918.3" x2="338.41" y2="920.3" stroke="#555" stroke-width="0.7"/>
<text x="338.41" y="926.60" font-size="5.30" text-anchor="middle" fill="#151515" textLength="3.44" lengthAdjust="spacingAndGlyphs">8</text>
<line x1="409.76" y1="918.3" x2="409.76" y2="920.3" stroke="#555" stroke-width="0.7"/>
<text x="409.76" y="926.60" font-size="5.30" text-anchor="middle" fill="#151515" textLength="6.88" lengthAdjust="spacingAndGlyphs">10</text>
<line x1="481.12" y1="918.3" x2="481.12" y2="920.3" stroke="#555" stroke-width="0.7"/>
<text x="481.12" y="926.60" font-size="5.30" text-anchor="middle" fill="#151515" textLength="6.88" lengthAdjust="spacingAndGlyphs">12</text>
<line x1="552.47" y1="918.3" x2="552.47" y2="920.3" stroke="#555" stroke-width="0.7"/>
<text x="552.47" y="926.60" font-size="5.30" text-anchor="middle" fill="#151515" textLength="6.88" lengthAdjust="spacingAndGlyphs">14</text>
<line x1="623.82" y1="918.3" x2="623.82" y2="920.3" stroke="#555" stroke-width="0.7"/>
<text x="623.82" y="926.60" font-size="5.30" text-anchor="middle" fill="#151515" textLength="6.88" lengthAdjust="spacingAndGlyphs">16</text>
<rect x="57.5" y="881.3" width="131" height="31.6" rx="2" ry="2" fill="#fff" fill-opacity="0.8" stroke="#e4e4e4" stroke-width="0.8"/>
<circle cx="71.1" cy="889.6" r="5.3" fill="#008000"/>
<circle cx="71.1" cy="904.0" r="5.3" fill="#ff0000"/>
<text x="89.00" y="893.04" font-size="9.60" text-anchor="start" fill="#1a1a1a" textLength="87.53" lengthAdjust="spacingAndGlyphs">Correct Prediction</text>
<text x="89.00" y="907.44" font-size="9.60" text-anchor="start" fill="#1a1a1a" textLength="95.18" lengthAdjust="spacingAndGlyphs">Incorrect Prediction</text>
<text x="356.00" y="948.42" font-size="12.90" text-anchor="middle" fill="#111" font-weight="bold" textLength="116.10" lengthAdjust="spacingAndGlyphs">Sample Number</text>
<text x="19.80" y="697.25" font-size="13.00" text-anchor="middle" fill="#111" font-weight="bold" textLength="110.70" lengthAdjust="spacingAndGlyphs" transform="rotate(-90 19.80 692.60)">Confidence (%)</text>
<text x="355.15" y="989.4" font-size="21.8" text-anchor="middle" fill="#111" textLength="24.1" lengthAdjust="spacingAndGlyphs">(b)</text>
</svg>
</body></html>
